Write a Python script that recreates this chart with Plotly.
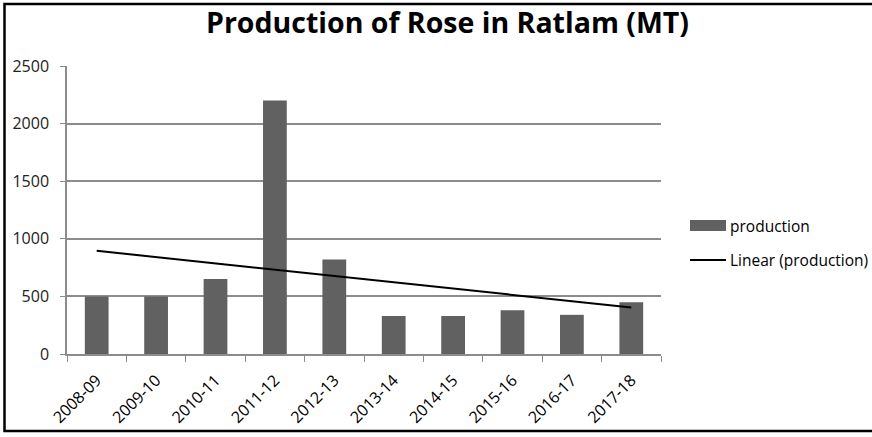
import numpy as np
import plotly.graph_objects as go

years = ["2008-09", "2009-10", "2010-11", "2011-12", "2012-13",
         "2013-14", "2014-15", "2015-16", "2016-17", "2017-18"]
production = [500, 500, 650, 2200, 820, 330, 330, 380, 340, 450]
y_ticks = [0, 500, 1000, 1500, 2000, 2500]
series_names = ["production", "Linear (production)"]

idx = np.arange(1, len(years) + 1)
slope, intercept = np.polyfit(idx, production, 1)
trend = list(slope * idx + intercept)

W, H = 872, 437
L, R, T, B = 67, 211, 66, 83
pw, ph = W - L - R, H - T - B
bar_color = "#616161"


def px(xp):
    return (xp - L) / pw


def py(yp):
    return 1 - (yp - T) / ph


fig = go.Figure()
fig.add_trace(go.Bar(x=years, y=production, name=series_names[0], showlegend=False,
                     marker=dict(color=bar_color, line=dict(width=0))))
fig.add_trace(go.Scatter(x=years, y=trend, mode="lines", name=series_names[1],
                         showlegend=False, line=dict(color="black", width=2)))

font = "Open Sans"
shapes = [
    dict(type="rect", xref="paper", yref="paper",
         x0=px(4.5), x1=px(900), y0=py(431), y1=py(4),
         line=dict(color="black", width=2.5)),
    # legend keys
    dict(type="rect", xref="paper", yref="paper",
         x0=px(690), x1=px(726), y0=py(231), y1=py(220),
         fillcolor=bar_color, line=dict(width=0)),
    dict(type="line", xref="paper", yref="paper",
         x0=px(690), x1=px(726), y0=py(260), y1=py(260),
         line=dict(color="black", width=2)),
]
annotations = [
    dict(text=series_names[0], xref="paper", yref="paper", x=px(728), y=py(225.5),
         xanchor="left", yanchor="middle", showarrow=False,
         font=dict(family=font, size=15.5, color="black")),
    dict(text=series_names[1], xref="paper", yref="paper", x=px(728), y=py(259.5),
         xanchor="left", yanchor="middle", showarrow=False,
         font=dict(family=font, size=15.5, color="black")),
]

fig.update_layout(
    width=W, height=H,
    margin=dict(l=L, r=R, t=T, b=B, autoexpand=False),
    paper_bgcolor="white", plot_bgcolor="white",
    bargap=0.6, showlegend=False,
    title=dict(text="<b>Production of Rose in Ratlam (MT)</b>",
               x=447.5 / W, xanchor="center", y=1 - 23.5 / H, yanchor="middle",
               font=dict(family=font, size=28.5, color="black")),
    xaxis=dict(type="category", showline=True, linecolor="#8c8c8c", linewidth=1.5,
               ticks="outside", tickson="boundaries", ticklen=6, tickcolor="#8c8c8c",
               tickangle=-45, tickfont=dict(family=font, size=16, color="black"),
               ticklabelstandoff=9, showgrid=False),
    yaxis=dict(range=[0, 2500], tickvals=y_ticks, showgrid=True, gridcolor="#8c8c8c",
               gridwidth=1.5, showline=True, linecolor="#8c8c8c", linewidth=1.5,
               ticks="outside", ticklen=5, tickcolor="#8c8c8c",
               tickfont=dict(family=font, size=16, color="#222222"), zeroline=False,
               ticklabelstandoff=8),
    shapes=shapes,
    annotations=annotations,
)

fig.write_html("out.html")
